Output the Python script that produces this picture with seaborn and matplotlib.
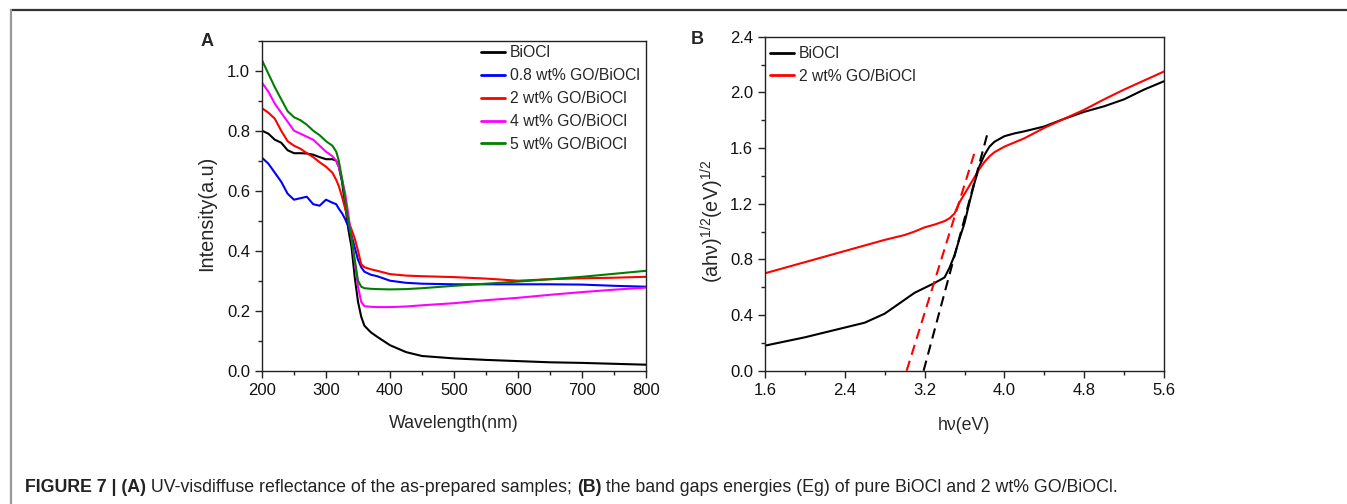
import numpy as np
import pandas as pd
import matplotlib
matplotlib.use("Agg")
import matplotlib.pyplot as plt
from matplotlib.lines import Line2D
from matplotlib.ticker import MultipleLocator, FormatStrFormatter
import seaborn as sns

# ---------------- Data: panel A ----------------
wavelength = [200, 210, 220, 230, 240, 250, 260, 270, 280, 290, 300, 310, 316, 320, 325,
              330, 335, 340, 345, 350, 355, 360, 370, 380, 400, 425, 450, 500, 550, 600,
              650, 700, 750, 800]
biocl_a = [0.80, 0.79, 0.77, 0.76, 0.735, 0.725, 0.725, 0.724, 0.72, 0.712, 0.705, 0.705, 0.70,
           0.68, 0.63, 0.55, 0.47, 0.41, 0.31, 0.23, 0.18, 0.15, 0.128, 0.113, 0.085, 0.062,
           0.049, 0.041, 0.036, 0.032, 0.028, 0.026, 0.023, 0.02]
go08_a = [0.71, 0.69, 0.66, 0.63, 0.59, 0.57, 0.575, 0.58, 0.555, 0.55, 0.57, 0.56, 0.555,
          0.54, 0.525, 0.505, 0.48, 0.45, 0.41, 0.37, 0.345, 0.33, 0.32, 0.315, 0.30, 0.293,
          0.29, 0.288, 0.288, 0.288, 0.288, 0.287, 0.283, 0.28]
go2_a = [0.875, 0.86, 0.84, 0.80, 0.765, 0.75, 0.74, 0.725, 0.712, 0.695, 0.68, 0.66, 0.636,
         0.615, 0.58, 0.54, 0.50, 0.47, 0.44, 0.40, 0.355, 0.345, 0.338, 0.333, 0.322, 0.317,
         0.315, 0.312, 0.307, 0.30, 0.305, 0.308, 0.31, 0.313]
go4_a = [0.96, 0.93, 0.89, 0.86, 0.83, 0.80, 0.79, 0.78, 0.77, 0.75, 0.73, 0.715, 0.70,
         0.68, 0.64, 0.59, 0.52, 0.44, 0.36, 0.28, 0.23, 0.215, 0.213, 0.212, 0.212, 0.214,
         0.218, 0.225, 0.235, 0.243, 0.253, 0.262, 0.27, 0.277]
go5_a = [1.035, 0.99, 0.945, 0.905, 0.865, 0.845, 0.835, 0.82, 0.80, 0.785, 0.765, 0.75, 0.73,
         0.70, 0.64, 0.57, 0.50, 0.44, 0.37, 0.30, 0.28, 0.275, 0.273, 0.272, 0.271, 0.272,
         0.275, 0.283, 0.29, 0.297, 0.305, 0.313, 0.323, 0.333]
labels_a = ["BiOCl", "0.8 wt% GO/BiOCl", "2 wt% GO/BiOCl", "4 wt% GO/BiOCl", "5 wt% GO/BiOCl"]
colors_a = ["#000000", "#0000ff", "#ff0000", "#ff00ff", "#008000"]

# ---------------- Data: panel B ----------------
energy = [1.6, 1.8, 2.0, 2.2, 2.4, 2.6, 2.8, 3.0, 3.1, 3.2, 3.3, 3.4, 3.45, 3.5, 3.55, 3.6,
          3.65, 3.7, 3.75, 3.8, 3.85, 3.9, 4.0, 4.1, 4.2, 4.4, 4.6, 4.8, 5.0, 5.2, 5.4, 5.6]
biocl_b = [0.18, 0.21, 0.24, 0.275, 0.31, 0.345, 0.41, 0.51, 0.56, 0.595, 0.63, 0.67, 0.74,
           0.83, 0.95, 1.06, 1.21, 1.35, 1.47, 1.55, 1.61, 1.645, 1.685, 1.705, 1.72, 1.755,
           1.81, 1.86, 1.90, 1.95, 2.02, 2.08]
go2_b = [0.70, 0.74, 0.78, 0.82, 0.86, 0.90, 0.94, 0.975, 1.00, 1.03, 1.05, 1.075, 1.095,
         1.13, 1.21, 1.27, 1.33, 1.39, 1.45, 1.50, 1.54, 1.57, 1.61, 1.64, 1.67, 1.745, 1.81,
         1.875, 1.95, 2.02, 2.085, 2.15]
tangent_biocl_x = [3.19, 3.84]
tangent_biocl_y = [0.0, 1.73]
tangent_go2_x = [3.02, 3.715]
tangent_go2_y = [0.0, 1.60]
labels_b = ["BiOCl", "2 wt% GO/BiOCl"]
colors_b = ["#000000", "#ff0000"]

caption_bold = "FIGURE 7 | (A)"
caption_mid = " UV-visdiffuse reflectance of the as-prepared samples; "
caption_bold2 = "(B)"
caption_end = " the band gaps energies (Eg) of pure BiOCl and 2 wt% GO/BiOCl."

# ---------------- Style ----------------
sns.set_style("ticks")
plt.rcParams["font.family"] = ["Liberation Sans", "DejaVu Sans"]
plt.rcParams["mathtext.fontset"] = "custom"
plt.rcParams["mathtext.rm"] = "Liberation Sans"
plt.rcParams["mathtext.it"] = "Liberation Sans:italic"
plt.rcParams["axes.edgecolor"] = "#222222"
plt.rcParams["axes.linewidth"] = 1.0

fig = plt.figure(figsize=(13.47, 5.04), dpi=100)
W, H = 1347, 504

def px_axes(l, t, r, b):
    return fig.add_axes([l / W, 1 - b / H, (r - l) / W, (b - t) / H])

axA = px_axes(262, 40.7, 646, 370.7)
axB = px_axes(765, 36.7, 1164, 370.7)

LW = 1.5
dfA = pd.DataFrame({
    "wl": np.tile(wavelength, 5),
    "val": np.concatenate([biocl_a, go08_a, go2_a, go4_a, go5_a]),
    "sample": np.repeat(labels_a, len(wavelength)),
})
sns.lineplot(data=dfA, x="wl", y="val", hue="sample", hue_order=labels_a,
             palette=colors_a, ax=axA, lw=LW, estimator=None, legend=False)

dfB = pd.DataFrame({
    "e": np.tile(energy, 2),
    "val": np.concatenate([biocl_b, go2_b]),
    "sample": np.repeat(labels_b, len(energy)),
})
sns.lineplot(data=dfB, x="e", y="val", hue="sample", hue_order=labels_b,
             palette=colors_b, ax=axB, lw=LW, estimator=None, legend=False)
axB.plot(tangent_biocl_x, tangent_biocl_y, color="#000000", lw=LW, ls=(0, (5, 3)))
axB.plot(tangent_go2_x, tangent_go2_y, color="#ff0000", lw=LW, ls=(0, (5, 3)))

# Axes A
axA.set_xlim(200, 800)
axA.set_ylim(0, 1.1)
axA.xaxis.set_major_locator(MultipleLocator(100))
axA.xaxis.set_minor_locator(MultipleLocator(50))
axA.yaxis.set_major_locator(MultipleLocator(0.2))
axA.yaxis.set_minor_locator(MultipleLocator(0.1))
axA.yaxis.set_major_formatter(FormatStrFormatter("%.1f"))
axA.set_xlabel("Wavelength(nm)", fontsize=12.8)
axA.set_ylabel("Intensity(a.u)", fontsize=14.3)
axA.xaxis.set_label_coords((454 - 262) / 384, -(424 - 370.7) / 330, transform=axA.transAxes)
axA.yaxis.set_label_coords(-(262 - 207) / 384, 1 - (213 - 40.7) / 330, transform=axA.transAxes)

# Axes B
axB.set_xlim(1.6, 5.6)
axB.set_ylim(0, 2.4)
axB.xaxis.set_major_locator(MultipleLocator(0.8))
axB.xaxis.set_minor_locator(MultipleLocator(0.4))
axB.yaxis.set_major_locator(MultipleLocator(0.4))
axB.yaxis.set_minor_locator(MultipleLocator(0.2))
axB.xaxis.set_major_formatter(FormatStrFormatter("%.1f"))
axB.yaxis.set_major_formatter(FormatStrFormatter("%.1f"))
axB.set_xlabel("hν(eV)", fontsize=12.8)
axB.set_ylabel(r"(ahν)$^{1/2}$(eV)$^{1/2}$", fontsize=14.3)
axB.xaxis.set_label_coords((964 - 765) / 399, -(426 - 370.7) / 334, transform=axB.transAxes)
axB.yaxis.set_label_coords(-(765 - 712) / 399, 1 - (221 - 36.7) / 334, transform=axB.transAxes)

for ax in (axA, axB):
    ax.xaxis.label.set_va("center")
    ax.yaxis.label.set_va("center")
    ax.tick_params(which="major", direction="out", length=5, width=1, labelsize=12,
                   color="#222222", labelcolor="#111111")
    ax.tick_params(which="minor", direction="out", length=3, width=1, color="#222222")
    for s in ax.spines.values():
        s.set_visible(True)

handlesA = [Line2D([], [], color=c, lw=2) for c in colors_a]
axA.legend(handlesA, labels_a, loc="upper left", bbox_to_anchor=(0.545, 1.014),
           frameon=False, fontsize=11.3, handlelength=1.55, handletextpad=0.3,
           labelspacing=0.5, borderaxespad=0.2)
handlesB = [Line2D([], [], color=c, lw=2) for c in colors_b]
axB.legend(handlesB, labels_b, loc="upper left", bbox_to_anchor=(-0.012, 1.0),
           frameon=False, fontsize=11.3, handlelength=1.55, handletextpad=0.3,
           labelspacing=0.5, borderaxespad=0.2)

# Panel letters
fig.text(207 / W, 1 - 41 / H, "A", fontsize=13, fontweight="bold", ha="center", va="center")
fig.text(697 / W, 1 - 40 / H, "B", fontsize=13, fontweight="bold", ha="center", va="center")

# Figure frame lines
fig.add_artist(Line2D([11 / W, 1.0], [1 - 10 / H, 1 - 10 / H], color="#333333", lw=1.6,
                      transform=fig.transFigure))
fig.add_artist(Line2D([11 / W, 11 / W], [1 - 10 / H, 0.0], color="#999999", lw=1.6,
                      transform=fig.transFigure))

# Caption
CY = 1 - 487 / H
CS = 12.8
t1 = fig.text(25 / W, CY, caption_bold, fontsize=CS, fontweight="bold",
              va="center", ha="left", color="#222222")
fig.canvas.draw()
r = fig.canvas.get_renderer()
bb = t1.get_window_extent(r)
t2 = fig.text(bb.x1 / W, CY, caption_mid, fontsize=CS, va="center", ha="left", color="#222222")
bb = t2.get_window_extent(r)
t3 = fig.text(bb.x1 / W, CY, caption_bold2, fontsize=CS, fontweight="bold",
              va="center", ha="left", color="#222222")
bb = t3.get_window_extent(r)
fig.text(bb.x1 / W, CY, caption_end, fontsize=CS, va="center", ha="left", color="#222222")

fig.savefig("out.png", dpi=100)
